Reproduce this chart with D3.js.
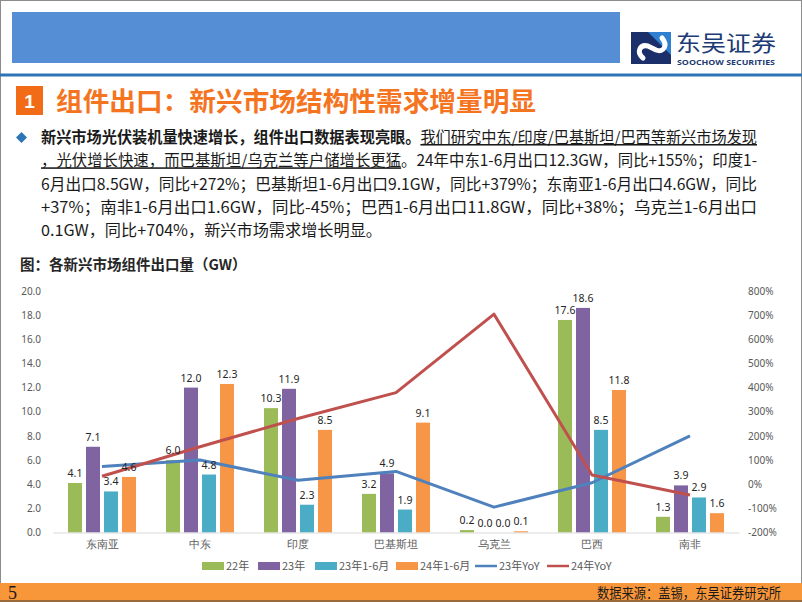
<!DOCTYPE html>
<html><head><meta charset="utf-8">
<script src="https://cdn.jsdelivr.net/npm/d3@7"></script>
<style>
body{margin:0;background:#fff}
svg{display:block;font-family:"Noto Sans CJK SC","Noto Sans",sans-serif}
</style>
</head><body><svg id="c" width="802" height="602"></svg>
<script>
// ---- data ----
const categories = ["东南亚","中东","印度","巴基斯坦","乌克兰","巴西","南非"];
const barSeries = ["22年","23年","23年1-6月","24年1-6月"];
const lineSeries = ["23年YoY","24年YoY"];
const v22   = [4.1, 6.0, 10.3, 3.2, 0.2, 17.6, 1.3];
const v23   = [7.1, 12.0, 11.9, 4.9, 0.0, 18.6, 3.9];
const v23h1 = [3.4, 4.8, 2.3, 1.9, 0.0, 8.5, 2.9];
const v24h1 = [4.6, 12.3, 8.5, 9.1, 0.1, 11.8, 1.6];
const yoy23 = [73, 100, 16, 53, -95, 6, 200];
const yoy24 = [33, 155, 272, 379, 704, 38, -45];
const leftTicks = [0, 2, 4, 6, 8, 10, 12, 14, 16, 18, 20];
const rightTicks = [-200, -100, 0, 100, 200, 300, 400, 500, 600, 700, 800];

const barColors = ["#9BBB59", "#8064A2", "#4BACC6", "#F79646"];
const lineColors = ["#4F81BD", "#C0504D"];
const barData = [v22, v23, v23h1, v24h1];
const lineData = [yoy23, yoy24];

const svg = d3.select("#c");

// ---- slide frame & header ----
svg.append("rect").attr("x",0.5).attr("y",0.5).attr("width",801).attr("height",601)
  .attr("fill","#fff").attr("stroke","#8c8c8c");
svg.append("rect").attr("x",12).attr("y",12).attr("width",608).attr("height",51).attr("fill","#558ED5");
svg.append("rect").attr("x",0).attr("y",73.5).attr("width",802).attr("height",3).attr("fill","#2E75B6");

// logo
const logo = svg.append("g");
logo.append("rect").attr("x",631).attr("y",32).attr("width",40).attr("height",32).attr("fill","#1B2F6B");
logo.append("path").attr("d","M648,32 L671,32 L671,55 Z").attr("fill","#2F80D1");
logo.append("path").attr("d","M643,58 C636,52 640,44 648,46 L656,50 C664,53 668,45 662,38")
  .attr("fill","none").attr("stroke","#fff").attr("stroke-width",5).attr("stroke-linecap","round");
logo.append("text").attr("x",676).attr("y",51).attr("font-size",22).attr("fill","#1C3A74")
  .attr("textLength",100).attr("lengthAdjust","spacingAndGlyphs").text("东吴证券");
logo.append("text").attr("x",677).attr("y",64.5).attr("font-size",7.5).attr("font-weight","bold")
  .attr("fill","#1C3A74").attr("font-family","'Open Sans',sans-serif")
  .attr("textLength",98).attr("lengthAdjust","spacingAndGlyphs").text("SOOCHOW SECURITIES");

// title
svg.append("rect").attr("x",16).attr("y",86).attr("width",27).attr("height",29).attr("fill","#F26B16");
svg.append("text").attr("x",29.5).attr("y",108).attr("text-anchor","middle").attr("fill","#fff")
  .attr("font-size",19).attr("font-weight","bold").attr("font-family","Arial,'Liberation Sans',sans-serif").text("1");
svg.append("text").attr("x",56).attr("y",111).attr("font-size",26.5).attr("font-weight","bold")
  .attr("fill","#F5741F").attr("textLength",480).attr("lengthAdjust","spacingAndGlyphs")
  .text("组件出口：新兴市场结构性需求增量明显");

// bullet
svg.append("path").attr("d","M21.5,132 L27,137.5 L21.5,143 L16,137.5 Z").attr("fill","#2E75B6");

const para = [
  {len:716, parts:[
    {t:"新兴市场光伏装机量快速增长，组件出口数据表现亮眼。", b:true},
    {t:"我们研究中东/印度/巴基斯坦/巴西等新兴市场发现", u:true}]},
  {len:716, parts:[
    {t:"，光伏增长快速，而巴基斯坦/乌克兰等户储增长更猛", u:true},
    {t:"。24年中东1-6月出口12.3GW，同比+155%；印度1-"}]},
  {len:716, parts:[{t:"6月出口8.5GW，同比+272%；巴基斯坦1-6月出口9.1GW，同比+379%；东南亚1-6月出口4.6GW，同比"}]},
  {len:716, parts:[{t:"+37%；南非1-6月出口1.6GW，同比-45%；巴西1-6月出口11.8GW，同比+38%；乌克兰1-6月出口"}]},
  {len:341, parts:[{t:"0.1GW，同比+704%，新兴市场需求增长明显。"}]}
];
const baseY = [143, 166.3, 189.6, 212.9, 236.2];
para.forEach((ln, i) => {
  const t = svg.append("text").attr("x",41).attr("y",baseY[i]).attr("font-size",15.5).attr("fill","#1a1a1a");
  if (ln.len) t.attr("textLength", ln.len).attr("lengthAdjust","spacingAndGlyphs");
  ln.parts.forEach(p => {
    const s = t.append("tspan").text(p.t);
    if (p.b) s.attr("font-weight","bold");
    if (p.u) s.style("text-decoration","underline");
  });
});

// chart title
svg.append("text").attr("x",20).attr("y",270).attr("font-size",14.5).attr("font-weight","bold")
  .attr("fill","#262626").text("图：各新兴市场组件出口量（GW）");

// ---- chart ----
const x0 = d3.scaleBand().domain(categories).range([53, 739]).padding(0);
const x1 = d3.scaleBand().domain(barSeries).range([15, 83]).paddingInner(4/18).paddingOuter(0);
const y = d3.scaleLinear().domain([0, 20]).range([532.5, 291]);
const y2 = d3.scaleLinear().domain([-200, 800]).range([532.5, 291]);

const gL = svg.append("g").attr("transform","translate(44,0)")
  .call(d3.axisLeft(y).tickValues(leftTicks).tickFormat(d3.format(".1f")).tickSize(0).tickPadding(3));
const gR = svg.append("g").attr("transform","translate(745,0)")
  .call(d3.axisRight(y2).tickValues(rightTicks).tickFormat(d => d + "%").tickSize(0).tickPadding(3));
[gL, gR].forEach(g => {
  g.select(".domain").remove();
  g.selectAll("text").attr("font-size",10).attr("fill","#595959")
    .attr("font-family","'Noto Sans','Open Sans',sans-serif");
});

// bars
barData.forEach((vals, si) => {
  const g = svg.append("g");
  g.selectAll("rect").data(vals).join("rect")
    .attr("x", (d, i) => x0(categories[i]) + x1(barSeries[si]))
    .attr("y", d => y(d))
    .attr("width", x1.bandwidth())
    .attr("height", d => y(0) - y(d))
    .attr("fill", barColors[si]);
});

// category axis
const gX = svg.append("g").attr("transform","translate(0,532.5)")
  .call(d3.axisBottom(x0).tickSize(0).tickPadding(8));
gX.select(".domain").attr("stroke","#d9d9d9");
gX.selectAll("text").attr("font-size",11).attr("fill","#595959");

// lines
const line = d3.line().x((d, i) => x0(categories[i]) + x0.bandwidth()/2).y(d => y2(d));
lineData.forEach((vals, li) => {
  svg.append("path").datum(vals).attr("d", line).attr("fill","none")
    .attr("stroke", lineColors[li]).attr("stroke-width",3).attr("stroke-linejoin","round");
});

// data labels
barData.forEach((vals, si) => {
  svg.append("g").selectAll("text").data(vals).join("text")
    .attr("x", (d, i) => x0(categories[i]) + x1(barSeries[si]) + x1.bandwidth()/2)
    .attr("y", d => y(d) - 6)
    .attr("text-anchor","middle").attr("font-size",10.5).attr("fill","#262626")
    .attr("font-family","'Noto Sans','Open Sans',sans-serif")
    .text(d => d.toFixed(1));
});

// legend
const legendItems = barSeries.map((n, i) => ({n, c: barColors[i], type: "bar"}))
  .concat(lineSeries.map((n, i) => ({n, c: lineColors[i], type: "line"})));
const legendX = [202, 258, 315, 396, 475, 547];
const lg = svg.append("g");
legendItems.forEach((it, i) => {
  const g = lg.append("g").attr("transform", `translate(${legendX[i]},566)`);
  if (it.type === "bar") g.append("rect").attr("x",0).attr("y",-4).attr("width",22).attr("height",8).attr("fill",it.c);
  else g.append("line").attr("x1",0).attr("x2",22).attr("y1",0).attr("y2",0).attr("stroke",it.c).attr("stroke-width",2.5);
  g.append("text").attr("x",24).attr("y",4).attr("font-size",11).attr("fill","#595959").text(it.n);
});

// footer
svg.append("rect").attr("x",0).attr("y",583).attr("width",802).attr("height",19).attr("fill","#F8963A");
svg.append("rect").attr("x",0).attr("y",600).attr("width",802).attr("height",2).attr("fill","#9a6a3a");
svg.append("text").attr("x",8).attr("y",599).attr("font-size",18)
  .attr("font-family","'Liberation Serif','DejaVu Serif',serif").attr("fill","#1a1a1a").text("5");
svg.append("text").attr("x",597).attr("y",598).attr("font-size",13.5).attr("fill","#1a1a1a")
  .attr("textLength",184).attr("lengthAdjust","spacingAndGlyphs").text("数据来源：盖锡，东吴证券研究所");
</script>
</body></html>
